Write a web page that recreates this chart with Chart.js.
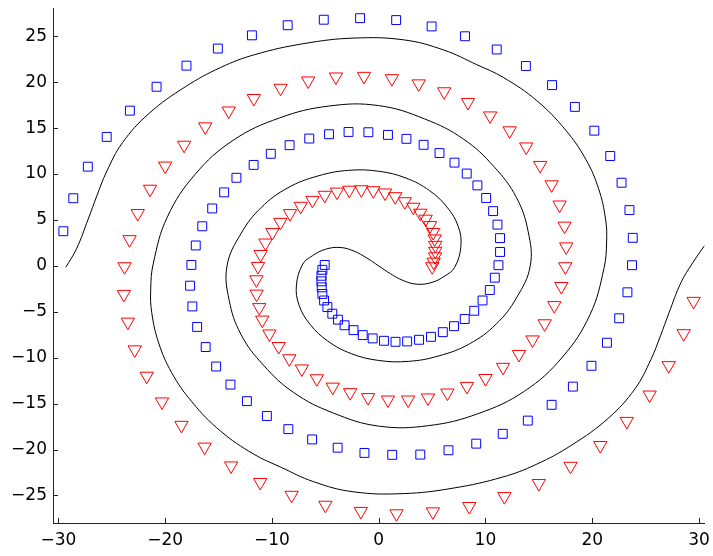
<!DOCTYPE html>
<html>
<head>
<meta charset="utf-8">
<script src="https://cdn.jsdelivr.net/npm/chart.js"></script>
<style>
  html, body { margin: 0; padding: 0; background: #fff; }
  #wrap { width: 713px; height: 556px; position: relative; }
</style>
</head>
<body>
<div id="wrap"><canvas id="chart"></canvas></div>
<script>
// values
const xTicks = [-30, -20, -10, 0, 10, 20, 30];
const yTicks = [-25, -20, -15, -10, -5, 0, 5, 10, 15, 20, 25];

// class 1: blue squares, outer end first
const blueX = [-29.53, -28.6, -27.24, -25.47, -23.3, -20.8, -18.0, -15.06, -11.87, -8.52,
  -5.14, -1.74, 1.64, 4.96, 8.09, 11.06, 13.79, 16.24, 18.38, 20.2,
  21.69, 22.75, 23.49, 23.8, 23.73, 23.3, 22.53, 21.38, 19.93, 18.19,
  16.2, 13.97, 11.62, 9.14, 6.54, 3.9, 1.27, -1.33, -3.84, -6.23,
  -8.46, -10.47, -12.34, -13.88, -15.22, -16.2, -17.0, -17.45, -17.66, -17.54,
  -17.13, -16.52, -15.59, -14.47, -13.32, -11.71, -10.1, -8.34, -6.5, -4.65,
  -2.82, -0.96, 0.87, 2.6, 4.21, 5.7, 7.1, 8.25, 9.25, 10.07,
  10.72, 11.13, 11.37, 11.37, 11.22, 10.88, 10.41, 9.73, 8.95, 8.06,
  7.06, 6.01, 4.9, 3.78, 2.67, 1.58, 0.5, -0.56, -1.49, -2.35,
  -3.19, -3.81, -4.34, -4.8, -5.11, -5.27, -5.33, -5.36, -5.36, -5.27, -5.05];
const blueY = [3.77, 7.36, 10.8, 14.04, 16.9, 19.5, 21.8, 23.66, 25.1, 26.2,
  26.8, 26.97, 26.76, 26.07, 25.0, 23.56, 21.76, 19.68, 17.31, 14.72,
  11.96, 9.05, 6.07, 3.05, 0.07, -2.88, -5.71, -8.37, -10.88, -13.15,
  -15.13, -16.85, -18.29, -19.36, -20.08, -20.55, -20.58, -20.37, -19.8, -18.9,
  -17.78, -16.35, -14.73, -12.93, -10.96, -8.84, -6.65, -4.42, -2.16, 0.1,
  2.22, 4.31, 6.25, 8.0, 9.59, 10.99, 12.2, 13.14, 13.86, 14.33,
  14.58, 14.55, 14.26, 13.83, 13.18, 12.28, 11.24, 10.05, 8.76, 7.39,
  5.96, 4.49, 3.02, 1.51, 0.07, -1.29, -2.63, -3.77, -4.89, -5.79,
  -6.57, -7.22, -7.73, -8.05, -8.23, -8.27, -8.16, -7.9, -7.54, -7.0,
  -6.47, -5.86, -5.21, -4.49, -3.77, -3.06, -2.34, -1.69, -1.08, -0.43, 0.1];

// class 2: red triangles, outer end first
const redX = [29.5, 28.57, 27.17, 25.38, 23.24, 20.76, 17.97, 15.0, 11.78, 8.49,
  5.08, 1.67, -1.67, -4.99, -8.15, -11.09, -13.82, -16.3, -18.47, -20.29,
  -21.72, -22.84, -23.49, -23.86, -23.8, -23.33, -22.56, -21.41, -19.99, -18.22,
  -16.24, -14.04, -11.69, -9.18, -6.6, -4.0, -1.37, 1.24, 3.75, 6.14,
  8.37, 10.44, 12.27, 13.82, 15.13, 16.2, 16.95, 17.41, 17.57, 17.48,
  17.11, 16.45, 15.55, 14.41, 13.14, 11.65, 10.01, 8.27, 6.44, 4.62,
  2.76, 0.87, -0.99, -2.67, -4.3, -5.79, -7.19, -8.37, -9.36, -10.23,
  -10.9, -11.18, -11.43, -11.45, -11.3, -11.05, -10.6, -9.95, -9.2, -8.3,
  -7.3, -6.2, -5.05, -3.9, -2.75, -1.62, -0.5, 0.6, 1.55, 2.45,
  3.25, 3.9, 4.4, 4.82, 5.1, 5.25, 5.3, 5.3, 5.28, 5.15, 5.02];
const redY = [-3.85, -7.37, -10.85, -14.05, -16.92, -19.55, -21.81, -23.68, -25.11, -26.19,
  -26.77, -26.98, -26.72, -26.05, -24.97, -23.57, -21.77, -19.72, -17.35, -14.8,
  -12.0, -9.13, -6.11, -3.09, -0.08, 2.87, 5.71, 8.36, 10.88, 13.15,
  15.15, 16.88, 18.24, 19.35, 20.15, 20.58, 20.65, 20.4, 19.83, 18.97,
  17.81, 16.34, 14.72, 12.96, 10.95, 8.84, 6.64, 4.34, 2.08, -0.08,
  -2.23, -4.31, -6.29, -8.05, -9.63, -11.03, -12.25, -13.11, -13.83, -14.37,
  -14.59, -14.59, -14.33, -13.79, -13.19, -12.28, -11.21, -10.1, -8.77, -7.4,
  -5.89, -4.53, -3.06, -1.5, -0.05, 1.25, 2.5, 3.65, 4.75, 5.7,
  6.5, 7.15, 7.7, 8.05, 8.25, 8.3, 8.2, 7.95, 7.55, 7.0,
  6.4, 5.75, 5.1, 4.4, 3.65, 2.95, 2.25, 1.6, 1.0, 0.42, -0.08];

// decision boundary, from its left end through the centre to the right edge
const boundaryX = [-29.3, -28.3, -27.2, -26.4, -25.5, -24.0, -21.5, -18.1, -14.8, -11.6,
  -7.0, -2.3, 2.4, 6.1, 9.2, 11.7, 14.8, 17.5, 19.4, 20.6,
  21.25, 21.35, 21.1, 19.8, 17.2, 13.65, 9.3, 4.66, 0.0, -4.3,
  -7.95, -10.8, -12.9, -14.0, -14.2, -12.9, -11.0, -8.5, -5.65, -2.8,
  0.0, 2.56, 4.75, 6.4, 7.45, 7.7, 7.1, 6.2, 5.0, 3.6,
  2.3, 1.1, 0.0, -1.1, -2.3, -3.6, -5.0, -6.2, -7.1, -7.7,
  -7.45, -6.4, -4.75, -2.56, 0.0, 2.8, 5.65, 8.5, 11.0, 12.9,
  14.2, 14.0, 12.9, 10.8, 7.95, 4.3, 0.0, -4.66, -9.3, -13.65,
  -17.2, -19.8, -21.1, -21.35, -21.25, -20.6, -19.4, -17.5, -14.8, -11.7,
  -9.2, -6.1, -2.4, 2.3, 7.0, 11.6, 14.8, 18.1, 21.5, 24.0,
  25.5, 26.4, 27.2, 28.3, 29.4, 30.55, 31.4];
const boundaryY = [-0.15, 1.85, 5.1, 7.6, 10.2, 13.4, 16.6, 19.5, 21.6, 23.0,
  24.2, 24.8, 24.6, 23.5, 21.9, 20.5, 18.0, 14.8, 11.6, 8.4,
  5.1, 2.6, -0.3, -5.3, -9.95, -13.65, -16.1, -17.4, -17.45, -16.0,
  -13.8, -10.8, -7.45, -3.75, 0.0, 3.5, 6.35, 8.5, 9.8, 10.4,
  10.3, 9.56, 8.2, 6.4, 4.3, 2.1, -0.2, -1.1, -1.8, -2.0,
  -1.6, -0.85, 0.0, 0.85, 1.6, 2.0, 1.8, 1.1, 0.2, -2.1,
  -4.3, -6.4, -8.2, -9.56, -10.3, -10.4, -9.8, -8.5, -6.35, -3.5,
  0.0, 3.75, 7.45, 10.8, 13.8, 16.0, 17.45, 17.4, 16.1, 13.65,
  9.95, 5.3, 0.3, -2.6, -5.1, -8.4, -11.6, -14.8, -18.0, -20.5,
  -21.9, -23.5, -24.6, -24.8, -24.2, -23.0, -21.6, -19.5, -16.6, -13.4,
  -10.2, -7.6, -5.1, -1.85, 0.3, 2.25, 3.6];

function toPoints(xs, ys) {
    return xs.map((x, i) => ({ x: x, y: ys[i] }));
}

function minusSign(v) {
    return String(v).replace('-', '\u2212');
}

// no extra room for the end labels, the plot box is fixed like in MATLAB
function noLabelPadding(scale) {
    scale.paddingLeft = 0;
    scale.paddingRight = 0;
    scale.paddingTop = 0;
    scale.paddingBottom = 0;
}

// MATLAB style tick marks pointing into the plot
const inwardTicks = {
    id: 'inwardTicks',
    afterDraw(chart) {
        const ctx = chart.ctx;
        const area = chart.chartArea;
        const xs = chart.scales.x;
        const ys = chart.scales.y;
        const len = 5;
        ctx.save();
        ctx.strokeStyle = '#222';
        ctx.lineWidth = 1;
        ctx.beginPath();
        xTicks.forEach(v => {
            const px = Math.round(xs.getPixelForValue(v)) + 0.5;
            ctx.moveTo(px, area.bottom);
            ctx.lineTo(px, area.bottom - len);
        });
        yTicks.forEach(v => {
            const py = Math.round(ys.getPixelForValue(v)) + 0.5;
            ctx.moveTo(area.left, py);
            ctx.lineTo(area.left + len, py);
        });
        ctx.stroke();
        ctx.restore();
    }
};

const tickFont = { family: '"DejaVu Sans", sans-serif', size: 17 };

const config = {
    type: 'scatter',
    data: {
        datasets: [
            {
                label: 'boundary',
                data: toPoints(boundaryX, boundaryY),
                showLine: true,
                borderColor: '#000',
                borderWidth: 1,
                pointRadius: 0,
                tension: 0.4,
                clip: 0
            },
            {
                label: 'class 1',
                data: toPoints(blueX, blueY),
                pointStyle: 'rect',
                pointRadius: 6.3,
                borderColor: 'rgb(0, 0, 255)',
                backgroundColor: 'rgba(0, 0, 0, 0)',
                borderWidth: 1
            },
            {
                label: 'class 2',
                data: toPoints(redX, redY),
                pointStyle: 'triangle',
                rotation: 180,
                pointRadius: 7.7,
                borderColor: 'rgb(255, 0, 0)',
                backgroundColor: 'rgba(0, 0, 0, 0)',
                borderWidth: 1
            }
        ]
    },
    options: {
        responsive: true,
        maintainAspectRatio: false,
        animation: false,
        devicePixelRatio: 1,
        layout: { padding: { left: 0, right: 4, top: 4.5, bottom: 0 } },
        plugins: {
            legend: { display: false },
            tooltip: { enabled: false }
        },
        scales: {
            x: {
                type: 'linear',
                position: 'bottom',
                min: -30.5,
                max: 30.5,
                afterBuildTicks: scale => { scale.ticks = xTicks.map(v => ({ value: v })); },
                afterFit: scale => { scale.height = 33; noLabelPadding(scale); },
                grid: { display: false, drawTicks: false },
                border: { display: true, color: '#222', width: 1 },
                ticks: {
                    font: tickFont,
                    color: '#000',
                    padding: 7,
                    maxRotation: 0,
                    callback: v => minusSign(v)
                }
            },
            y: {
                type: 'linear',
                position: 'left',
                min: -28,
                max: 28,
                afterBuildTicks: scale => { scale.ticks = yTicks.map(v => ({ value: v })); },
                afterFit: scale => { scale.width = 53; noLabelPadding(scale); },
                grid: { display: false, drawTicks: false },
                border: { display: true, color: '#222', width: 1 },
                ticks: {
                    font: tickFont,
                    color: '#000',
                    padding: 6,
                    callback: v => minusSign(v)
                }
            }
        }
    },
    plugins: [inwardTicks]
};

new Chart(document.getElementById('chart'), config);
</script>
</body>
</html>
